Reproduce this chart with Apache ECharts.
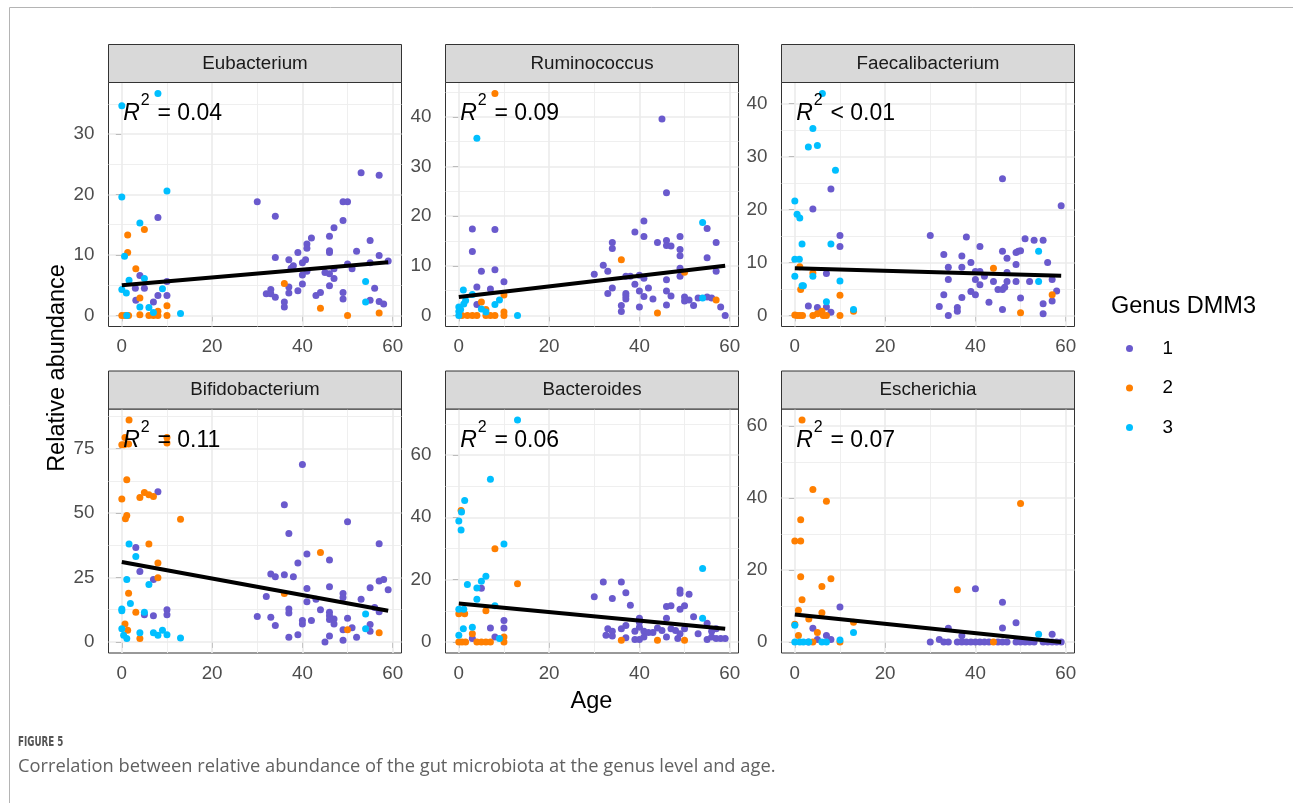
<!DOCTYPE html>
<html><head><meta charset="utf-8">
<script src="https://cdn.jsdelivr.net/npm/echarts@6/dist/echarts.min.js"></script>
<style>html,body{margin:0;padding:0;background:#fff}#chart{width:1293px;height:803px}</style>
</head><body><div id="chart"></div>
<script>
// ---------------- data ----------------
const panelNames = ['Eubacterium', 'Ruminococcus', 'Faecalibacterium', 'Bifidobacterium', 'Bacteroides', 'Escherichia'];
const r2Ops = ['=', '=', '<', '=', '=', '='];
const r2Values = ['0.04', '0.09', '0.01', '0.11', '0.06', '0.07'];
const groupNames = ['1', '2', '3'];
const groupColors = ['#6A5ACD', '#FF7F00', '#00BFFF'];
const xTicks = [0, 20, 40, 60];
const eubacteriumTicks = [0, 10, 20, 30];
const ruminococcusTicks = [0, 10, 20, 30, 40];
const faecalibacteriumTicks = [0, 10, 20, 30, 40];
const bifidobacteriumTicks = [0, 25, 50, 75];
const bacteroidesTicks = [0, 20, 40, 60];
const escherichiaTicks = [0, 20, 40, 60];

// regression lines (value at age 0 and age 59)
const fitAges = [0, 59];
const eubacteriumFit = [5.0, 8.8];
const ruminococcusFit = [3.7, 10.0];
const faecalibacteriumFit = [8.9, 7.5];
const bifidobacteriumFit = [31.0, 12.1];
const bacteroidesFit = [12.3, 4.2];
const escherichiaFit = [7.6, 0.0];

// points: [age, relative abundance]
const eubacterium1 = [[8,16.2],[4,6.6],[3,4.5],[3.1,2.5],[7,2.2],[8,3.3],[10,3.3],[10,5.6],[5,4.5],
 [30,18.8],[34,16.4],[34,9.6],[32,3.6],[33,4.3],[33,3.6],[34,3.0],[36,2.2],[36,1.4],[37,9.2],[37.5,7.8],[38,8.2],[37,4.7],[37,3.7],[39,10.4],[39,4.1],[40,8.7],[40,6.7],[40,5.2],[40.7,9.2],[41,11.8],[41,11.1],[42,12.8],[41,7.3],[43,3.3],[44,3.8],[46,13.1],[46,10.7],[46,10.4],[45,7.1],[46,6.9],[47,7.7],[47,6.1],[46,4.9],[47,14.5],[49,18.8],[50,18.8],[49,15.7],[49,3.8],[49,2.7],[50,8.5],[51,7.7],[52,10.6],[53,23.6],[55,12.4],[56,4.5],[55,2.5],[57,23.2],[57,9.9],[57,2.3],[58,1.9],[59,9.0],[55,8.7]];
const eubacterium2 = [[1.3,13.3],[5,14.2],[1.3,10.4],[3.1,7.7],[4,2.9],[10,1.6],[8,0.7],[0,0],[0.7,0],[1.5,0],[4,0.1],[6,0],[7,0],[8,0],[10,0],[36,5.3],[44,1.2],[50,0],[57,0.4]];
const eubacterium3 = [[0,34.7],[8,36.7],[0,19.6],[10,20.6],[4,15.3],[0.6,9.8],[1.6,5.8],[5,6.1],[0,4.3],[1,3.7],[9,4.4],[4,1.4],[6,1.3],[7,0.5],[1.1,0],[13,0.3],[54,5.6],[54,2.2]];

const ruminococcus1 = [[3,17.4],[8,17.3],[3,12.9],[5,8.9],[8,9.2],[10,6.8],[4,5.7],[7,5.3],[4,2.2],
 [45,39.6],[46,24.7],[41,19],[39,16.8],[41,15.9],[34,14.7],[34,13.5],[44,14.7],[46,15.1],[46,14.1],[47,14],[49,15.9],[49,13.3],[49,12],[55,17.5],[57,14.7],[55,11.6],[32,10.1],[30,8.3],[33,8.9],[37,7.9],[38,7.9],[40,8.1],[41,7.5],[46,7.2],[49,9.5],[49,7.9],[57,8.9],[39,6.3],[42,5.5],[34,5.5],[33,4.4],[37,4.4],[37,3.9],[37,3.3],[40,4.9],[41,3.8],[43,3.3],[46,4.9],[47,3.9],[50,3.7],[50,2.9],[51,3.1],[52,2],[53,3.5],[55,3.7],[56,3.5],[36,2],[36,0.8],[40,1.7],[46,2.1],[58,1.7],[59,0]];
const ruminococcus2 = [[8,44.7],[36,11.2],[50,8.7],[57,3.1],[44,0.5],[5,2.7],[6,1.2],[10,4.1],[0.7,0],[1.9,0],[3,0],[4,0],[6,0],[7,0],[8,0],[10,0],[10,0.7]];
const ruminococcus3 = [[4,35.7],[54,18.7],[54,3.5],[1,5.1],[3,4.2],[0,1.7],[0,0.8],[0,0],[0.4,1.2],[1.1,2.3],[1.5,3],[8,2.2],[9,3.1],[5,1.3],[6,0.7],[13,0]];

const faecalibacterium1 = [[8,23.9],[4,20.1],[10,15.1],[10,13],[7,7.9],[3,1.8],[5,1.5],[7,1.6],[8,0.6],
 [30,15.1],[38,14.8],[41,13],[46,25.8],[59,20.7],[33,11.5],[34,9.1],[34,6.8],[37,11.2],[37,9.1],[39,10],[40,8.3],[41,8.3],[40,6.8],[41,5.8],[42,7.4],[44,6.4],[46,12.1],[47,10.8],[49,11.9],[49.5,12.1],[50,12.2],[51,14.5],[53,14.2],[55,14.2],[56,10],[47,8.1],[47,6.4],[45,4.9],[46,4.9],[46.5,5.3],[49,9.6],[49,6.4],[52,6.4],[57,6.8],[33,3.9],[37,3.4],[39,4.5],[40,3.9],[43,2.5],[32,1.7],[34,0],[36,1.5],[36,0.8],[46,1.1],[50,3.3],[55,2.2],[55,0.3],[57,2.7],[58,4.6]];
const faecalibacterium2 = [[1.1,9.2],[1.3,4.9],[4,8],[10,3.8],[0,0.1],[0.5,0],[1.1,0],[1.7,0],[4,0],[5,0.3],[6,0.8],[6.3,0],[7,0],[10,0],[13,0.8],[44,8.9],[50,0.5],[57,3.9]];
const faecalibacterium3 = [[6.1,41.9],[4,35.3],[3,31.8],[5,32.1],[9,27.4],[0,21.6],[0.5,19.1],[1.1,18.4],[1.6,13.5],[0,10.6],[1,10.6],[0,7.4],[1.6,5.6],[1.9,5.6],[4,7.4],[8,13.5],[10,6.5],[7,2.6],[13,1.1],[54,12.1],[54,6.4]];

const bifidobacterium1 = [[8,58.3],[3.1,36.6],[4,27.3],[7,24.2],[5,10.5],[7,10.2],[10,12.5],[10,10.5],
 [40,68.9],[36,53.2],[50,46.6],[37,42.1],[57,38.1],[41,34.1],[46,31.8],[39,30.6],[33,26.4],[34,25.3],[36,26.1],[38,25.3],[57,23.6],[58,24.2],[59,20.2],[46,21.4],[41,20.7],[55,21],[32,17.6],[41,15.6],[43,16.6],[49,18.8],[49,17.2],[53,16.6],[56,13.4],[37,12.8],[37,11.2],[44,12.5],[46,11.5],[46,10.2],[47,8.9],[46,8.7],[47,7],[30,9.9],[33,9.6],[34,6.4],[40,8.3],[40,7],[42,8.3],[50,9.2],[51,5.5],[49,4.7],[55,6.8],[55,4.1],[57,11.7],[37,1.8],[39,2.8],[45,0],[46,2.3],[49,0.6],[52,1.8]];
const bifidobacterium2 = [[1.6,86.1],[0.7,79.3],[0.5,76.5],[1.5,76.8],[0,76.5],[10,79.3],[10,77.2],[1.1,62.9],[0,55.5],[4,56.1],[5,58],[6,57.1],[7,56.4],[0.8,47.8],[1.1,49.1],[13,47.6],[6,38],[8,30.6],[8,24.9],[1.5,18.9],[3.1,11.5],[0.7,7],[1.3,4.5],[4,1.3],[44,34.7],[36,18.8],[50,4.7],[57,3.6]];
const bifidobacterium3 = [[1.6,38],[3.1,33.2],[1.1,24.2],[6,22.3],[1.9,14.9],[0,12.8],[0,12.1],[5,11.5],[0,5.1],[0.4,2.6],[1.1,1.3],[4,3.6],[7,3.6],[8,2.6],[9,4.5],[10,2.8],[13,1.5],[54,10.8],[54,5.1]];

const bacteroides1 = [[5,17.2],[7,4.5],[10,6.9],[10,4.5],[8,1.6],[3,1.1],
 [32,19.2],[36,19.2],[37,15.8],[30,14.5],[34,13.9],[38,11.8],[49,16.7],[49,15.6],[51,15.3],[46,11.4],[47,11.6],[49,10.5],[50,11.6],[52,8.1],[40,7.6],[46,7.6],[55,6],[36,4.2],[37,5.3],[40,6.3],[40,4.7],[33,4.2],[34,3.4],[32.6,2.1],[34,1.9],[39,3.4],[41,3.4],[42,3],[43,3],[44,4.5],[45,3.7],[47,4.2],[48,3.7],[50,4.2],[37,1.3],[39,0.8],[40,0.8],[41,1.6],[46,1.6],[48.5,1.1],[49,2.6],[53,2.6],[55,0.8],[56,1.6],[57,1.1],[58,1.1],[59,1.1],[57,4.2],[56,3.4]];
const bacteroides2 = [[0.5,42.2],[8,29.9],[13,18.7],[0,9],[1.3,9],[6,10],[3,2.6],[0,0],[0.7,0],[1.5,0],[4,0],[5,0],[6,0],[7,0],[10,0],[10,1.6],[36,0.5],[44,0.5],[50,0.5]];
const bacteroides3 = [[13,71.2],[7,52.2],[1.3,45.4],[0.6,41.7],[0,38.8],[0.5,35.9],[10,31.4],[6,21.1],[5,19.5],[1.9,18.4],[4,17.3],[4,13.7],[0,10.5],[1.1,10.5],[8,11.6],[1,4.2],[3,4.7],[0,2.1],[9,1.1],[54,23.6],[54,7.6]];

const escherichia1 = [[10,9.7],[4,3.8],[5,0.7],[7,1.8],[8,0.7],[3,0],
 [40,14.8],[46,11],[49,5.3],[46,3.9],[34,3.8],[57,2.1],[37,1.7],[32,0.7],
 [30,0],[33,0],[34,0],[36,0],[37,0],[38,0],[39,0],[40,0],[41,0],[42,0],[43,0],[45,0],[46,0],[47,0],[49,0],[50,0],[51,0],[52,0],[53,0],[55,0],[56,0],[57,0],[58,0],[59,0]];
const escherichia2 = [[1.6,61.7],[4,42.4],[7,39.1],[50,38.5],[1.3,34],[0,28.1],[1.3,28.1],[1.3,18.1],[8,17.6],[6,15.4],[1.6,11.7],[36,14.5],[0.8,8.8],[6,8.1],[3.1,6.4],[0,4.9],[5,2.6],[0.8,1.8],[4,0],[10,0],[13,5.5],[44,0]];
const escherichia3 = [[0,4.6],[13,2.6],[54,2.1],[0,0],[1.1,0],[1.9,0],[3.1,0],[6,0],[7,0],[10,0.5]];

// ---------------- assembly ----------------
const panelPoints = [
  [eubacterium1, eubacterium2, eubacterium3],
  [ruminococcus1, ruminococcus2, ruminococcus3],
  [faecalibacterium1, faecalibacterium2, faecalibacterium3],
  [bifidobacterium1, bifidobacterium2, bifidobacterium3],
  [bacteroides1, bacteroides2, bacteroides3],
  [escherichia1, escherichia2, escherichia3]
];
const panelTicks = [eubacteriumTicks, ruminococcusTicks, faecalibacteriumTicks, bifidobacteriumTicks, bacteroidesTicks, escherichiaTicks];
const panelFits = [eubacteriumFit, ruminococcusFit, faecalibacteriumFit, bifidobacteriumFit, bacteroidesFit, escherichiaFit];

// layout (pixels)
const COL_LEFT = [108.5, 445.5, 781.5];
const PANEL_W = 293;
const STRIP_TOP = [44.5, 371];
const STRIP_H = 38;
const PLOT_H = 244;
const FONT = 'Liberation Sans, Arial, sans-serif';
const SMALL = 18.8, BIG = 23.5;

function expand(vals) {
  const mn = Math.min(...vals), mx = Math.max(...vals), r = mx - mn;
  return [mn - 0.05 * r, mx + 0.05 * r];
}
function minorBreaks(major, lo, hi) {
  const s = major[1] - major[0];
  const out = [];
  for (let v = major[0] - s / 2; v < hi; v += s) if (v > lo) out.push(v);
  return out;
}
const xExt = expand(panelPoints.flat().flat().map(p => p[0]));

const grids = [], xAxes = [], yAxes = [], series = [], graphics = [];
const majorLine = { color: '#EBEBEB', width: 1.6, type: 'solid' };
const minorLine = { color: '#EDEDED', width: 0.9, type: 'solid' };

panelNames.forEach((name, i) => {
  const col = i % 3, row = Math.floor(i / 3);
  const left = COL_LEFT[col];
  const plotTop = STRIP_TOP[row] + STRIP_H;
  grids.push({ left: left, top: plotTop, width: PANEL_W, height: PLOT_H, show: true,
    borderColor: '#333333', borderWidth: 1, backgroundColor: '#ffffff', containLabel: false });
  const yExt = expand(panelPoints[i].flat().map(p => p[1]));
  xAxes.push({ gridIndex: i, type: 'value', min: xExt[0], max: xExt[1],
    axisLine: { show: false },
    axisTick: { show: true, length: 6, lineStyle: { color: '#333333', width: 1 }, customValues: xTicks },
    axisLabel: { customValues: xTicks, color: '#4D4D4D', fontSize: SMALL, fontFamily: FONT, margin: 11 },
    splitLine: { show: false } });
  yAxes.push({ gridIndex: i, type: 'value', min: yExt[0], max: yExt[1],
    axisLine: { show: false },
    axisTick: { show: true, length: 6, lineStyle: { color: '#333333', width: 1 }, customValues: panelTicks[i] },
    axisLabel: { customValues: panelTicks[i], color: '#4D4D4D', fontSize: SMALL, fontFamily: FONT, margin: 14 },
    splitLine: { show: false } });

  // grid lines as markLines (minor first, then major)
  const ml = [];
  minorBreaks(xTicks, xExt[0], xExt[1]).forEach(v => ml.push({ xAxis: v, lineStyle: minorLine }));
  minorBreaks(panelTicks[i], yExt[0], yExt[1]).forEach(v => ml.push({ yAxis: v, lineStyle: minorLine }));
  xTicks.forEach(v => ml.push({ xAxis: v, lineStyle: majorLine }));
  panelTicks[i].forEach(v => ml.push({ yAxis: v, lineStyle: majorLine }));

  // points: purple, orange, cyan
  [0, 1, 2].forEach(g => {
    series.push({ type: 'scatter', name: groupNames[g], xAxisIndex: i, yAxisIndex: i,
      data: panelPoints[i][g], symbol: 'circle', symbolSize: 7, silent: true, z: 3,
      itemStyle: { color: groupColors[g], opacity: 1 }, emphasis: { disabled: true } });
  });
  // regression line (with the grid lines attached below everything)
  series.push({ type: 'line', xAxisIndex: i, yAxisIndex: i, silent: true, z: 6,
    data: fitAges.map((a, k) => [a, panelFits[i][k]]), symbol: 'none',
    lineStyle: { color: '#000000', width: 4 }, emphasis: { disabled: true },
    markLine: { silent: true, z: 1, symbol: ['none', 'none'], label: { show: false }, animation: false,
      emphasis: { disabled: true }, data: ml } });

  // strip
  graphics.push({ type: 'rect', shape: { x: left, y: STRIP_TOP[row], width: PANEL_W, height: STRIP_H },
    style: { fill: '#D9D9D9', stroke: '#333333', lineWidth: 1 }, z: 10 });
  graphics.push({ type: 'text', x: left + PANEL_W / 2, y: STRIP_TOP[row] + STRIP_H / 2, z: 11,
    style: { text: name, fontSize: SMALL, fontFamily: FONT, fill: '#1A1A1A', textAlign: 'center', textVerticalAlign: 'middle' } });
  // R^2 annotation
  const ry = plotTop + 31.5;
  graphics.push({ type: 'text', x: left + 14.8, y: ry, z: 20,
    style: { text: 'R', fontSize: 23, fontStyle: 'italic', fontFamily: FONT, fill: '#000', textAlign: 'left', textVerticalAlign: 'middle' } });
  graphics.push({ type: 'text', x: left + 32.2, y: ry - 13.4, z: 20,
    style: { text: '2', fontSize: 16, fontFamily: FONT, fill: '#000', textAlign: 'left', textVerticalAlign: 'middle' } });
  graphics.push({ type: 'text', x: left + 42.5, y: ry, z: 20,
    style: { text: ' ' + r2Ops[i] + ' ' + r2Values[i], fontSize: 23, fontFamily: FONT, fill: '#000', textAlign: 'left', textVerticalAlign: 'middle' } });
});

// axis titles, legend title, caption, frame
graphics.push({ type: 'text', x: 58, y: 368, rotation: Math.PI / 2, z: 20,
  style: { text: 'Relative abundance', fontSize: BIG, fontFamily: FONT, fill: '#000', textAlign: 'center', textVerticalAlign: 'middle' } });
graphics.push({ type: 'text', x: 591.5, y: 702, z: 20,
  style: { text: 'Age', fontSize: BIG, fontFamily: FONT, fill: '#000', textAlign: 'center', textVerticalAlign: 'middle' } });
graphics.push({ type: 'text', x: 1111, y: 307, z: 20,
  style: { text: 'Genus DMM3', fontSize: BIG, fontFamily: FONT, fill: '#000', textAlign: 'left', textVerticalAlign: 'middle' } });
graphics.push({ type: 'text', x: 18, y: 742, z: 20, scaleX: 0.72,
  style: { text: 'FIGURE 5', fontSize: 13.5, fontWeight: 'bold', fontFamily: 'Liberation Sans Narrow, DejaVu Sans Condensed, sans-serif', fill: '#555555', textAlign: 'left', textVerticalAlign: 'middle' } });
graphics.push({ type: 'text', x: 18, y: 767, z: 20,
  style: { text: 'Correlation between relative abundance of the gut microbiota at the genus level and age.', fontSize: 18.3, fontFamily: 'Open Sans, Lato, sans-serif', fill: '#616161', textAlign: 'left', textVerticalAlign: 'middle' } });
graphics.push({ type: 'polyline', shape: { points: [[9.5, 820], [9.5, 7.5], [1300, 7.5]] },
  style: { stroke: '#B4B4B4', lineWidth: 1, fill: null }, z: 20 });

const chart = echarts.init(document.getElementById('chart'), null, { renderer: 'canvas' });
chart.setOption({
  animation: false,
  backgroundColor: '#ffffff',
  textStyle: { fontFamily: FONT },
  grid: grids, xAxis: xAxes, yAxis: yAxes, series: series, graphic: graphics,
  legend: { data: groupNames, orient: 'vertical', left: 1126, top: 339, icon: 'circle',
    itemWidth: 56, itemHeight: 7, itemGap: 20.5, padding: 0, selectedMode: false,
    textStyle: { fontSize: SMALL, fontFamily: FONT, color: '#000', lineHeight: 19 } }
});
</script></body></html>
